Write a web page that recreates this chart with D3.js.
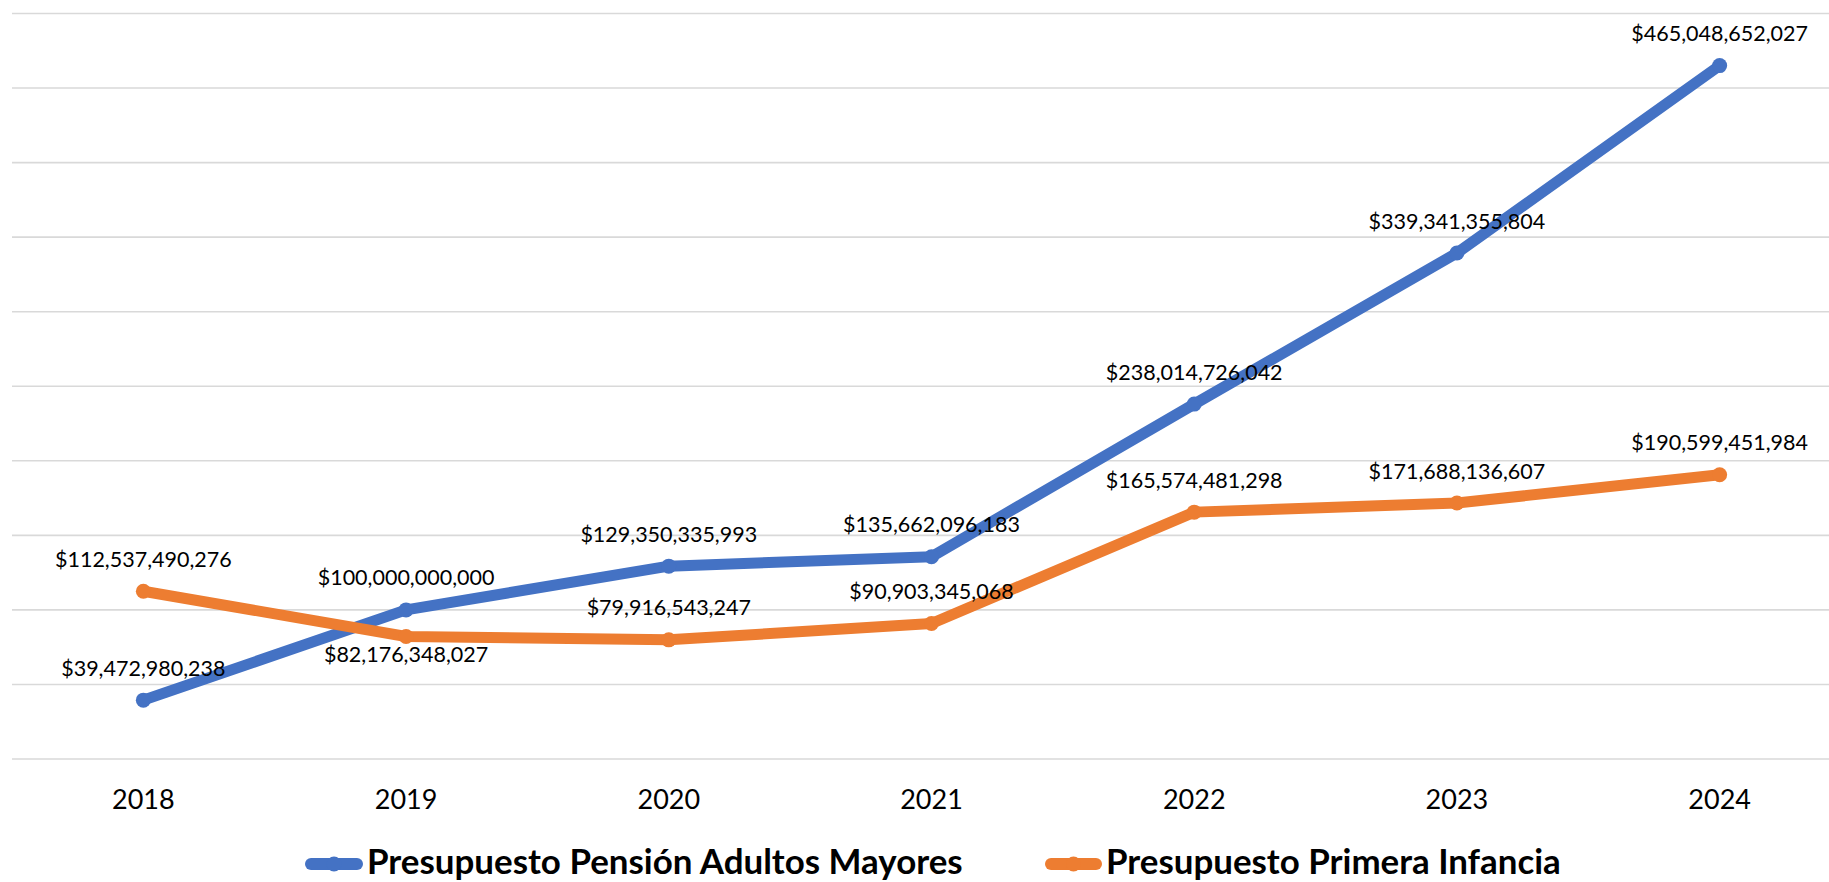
<!DOCTYPE html>
<html>
<head>
<meta charset="utf-8">
<script src="https://cdn.jsdelivr.net/npm/d3@7"></script>
<style>
  html, body { margin: 0; padding: 0; background: #ffffff; overflow: hidden; }
  svg { display: block; }
  text { font-family: Lato, "Open Sans", "Liberation Sans", sans-serif; fill: #000; }
</style>
</head>
<body>
<svg id="chart" width="1829" height="882"></svg>
<script>
// ---- data ----
const years = ["2018", "2019", "2020", "2021", "2022", "2023", "2024"];
const pensionAdultos = [39472980238, 100000000000, 129350335993, 135662096183, 238014726042, 339341355804, 465048652027];
const primeraInfancia = [112537490276, 82176348027, 79916543247, 90903345068, 165574481298, 171688136607, 190599451984];
const seriesNames = ["Presupuesto Pensión Adultos Mayores", "Presupuesto Primera Infancia"];
const yTickValues = [0, 50e9, 100e9, 150e9, 200e9, 250e9, 300e9, 350e9, 400e9, 450e9, 500e9];

// ---- layout ----
const W = 1829, H = 882;
const plot = { left: 12, right: 1851, top: 13.5, bottom: 759 };
const colors = ["#4472C4", "#ED7D31"];

const svg = d3.select("#chart");

const x = d3.scaleBand().domain(years).range([plot.left, plot.right]).paddingInner(0).paddingOuter(0);
const cx = d => x(d) + x.bandwidth() / 2;
const y = d3.scaleLinear().domain([0, 500e9]).range([plot.bottom, plot.top]);

// gridlines
svg.append("g").selectAll("line").data(yTickValues).join("line")
  .attr("x1", plot.left).attr("x2", plot.right)
  .attr("y1", d => y(d)).attr("y2", d => y(d))
  .attr("stroke", "#d9d9d9").attr("stroke-width", 1.6);

// x axis labels
const xAxis = d3.axisBottom(x).tickSize(0).tickPadding(0);
const gx = svg.append("g").attr("transform", `translate(0,${plot.bottom})`).call(xAxis);
gx.select(".domain").remove();
gx.selectAll("text")
  .attr("dy", null).attr("y", 50)
  .style("font-size", "27px").style("font-family", "Lato, 'Open Sans', sans-serif").attr("fill", "#000");

const allSeries = [
  { name: seriesNames[0], values: pensionAdultos, color: colors[0], below: [] },
  { name: seriesNames[1], values: primeraInfancia, color: colors[1], below: [1] }
];

const line = d3.line().x((d, i) => cx(years[i])).y(d => y(d));

allSeries.forEach(s => {
  svg.append("path")
    .attr("d", line(s.values))
    .attr("fill", "none").attr("stroke", s.color)
    .attr("stroke-width", 11).attr("stroke-linejoin", "round").attr("stroke-linecap", "round");
  svg.append("g").selectAll("circle").data(s.values).join("circle")
    .attr("cx", (d, i) => cx(years[i])).attr("cy", d => y(d)).attr("r", 7.5)
    .attr("fill", s.color);
});

const fmt = d3.format(",");
allSeries.forEach(s => {
  svg.append("g").selectAll("text").data(s.values).join("text")
    .attr("x", (d, i) => cx(years[i]))
    .attr("y", (d, i) => s.below.includes(i) ? y(d) + 26 : y(d) - 24.5)
    .attr("text-anchor", "middle")
    .style("font-size", "21.5px")
    .text(d => "$" + fmt(d));
});

// legend
const legendItems = [
  { name: seriesNames[0], color: colors[0], x0: 305, x1: 363, tx: 367, tw: 596 },
  { name: seriesNames[1], color: colors[1], x0: 1045, x1: 1102, tx: 1106, tw: 455 }
];
const ly = 864;
legendItems.forEach(it => {
  const g = svg.append("g");
  g.append("line").attr("x1", it.x0 + 6).attr("x2", it.x1 - 6).attr("y1", ly).attr("y2", ly)
    .attr("stroke", it.color).attr("stroke-width", 12).attr("stroke-linecap", "round");
  g.append("circle").attr("cx", (it.x0 + it.x1) / 2).attr("cy", ly).attr("r", 7.5).attr("fill", it.color);
  const t = g.append("text").attr("x", it.tx).attr("y", 874)
    .style("font-size", "30px").style("font-weight", "bold").text(it.name);
  const len = t.node().getComputedTextLength();
  t.style("font-size", (30 * it.tw / len).toFixed(2) + "px");
});
</script>
</body>
</html>
